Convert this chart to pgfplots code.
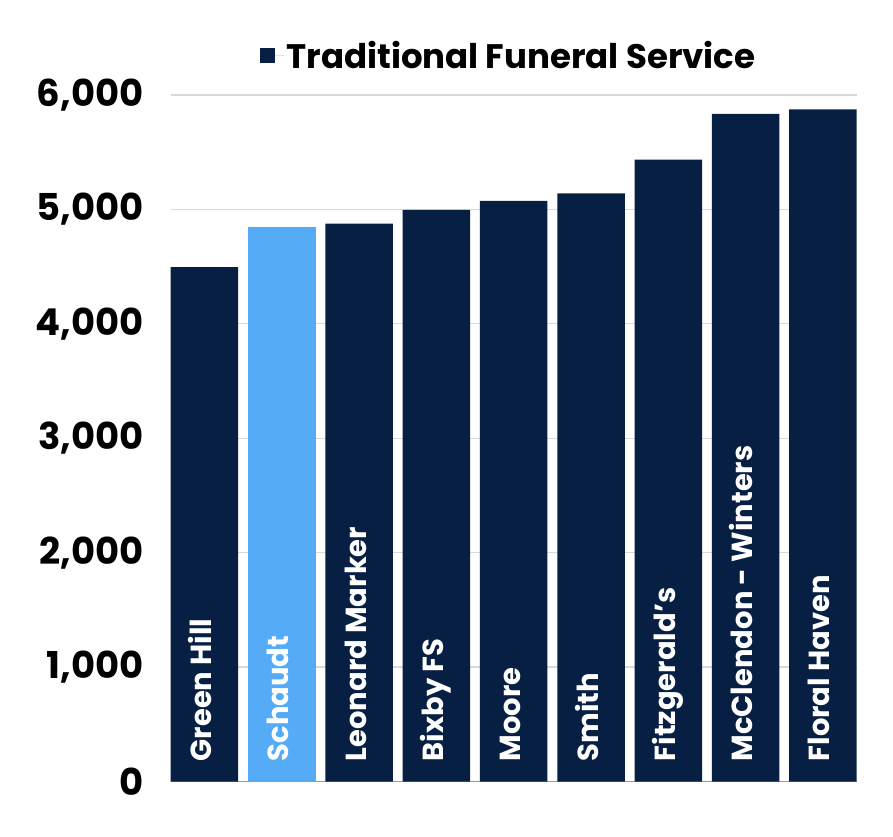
\documentclass[border=0pt]{standalone}
\usepackage{fontspec}
\setmainfont{Poppins}
\usepackage{pgfplots}
\pgfplotsset{compat=1.18}
\definecolor{navy}{HTML}{081F44}
\definecolor{lblue}{HTML}{56ABF7}
\definecolor{gridc}{HTML}{D9D9D9}
\begin{document}
\begin{tikzpicture}
\path[use as bounding box] (0,0) rectangle (893pt,836pt);
\begin{axis}[
  at={(170.7pt,54.5pt)}, anchor=south west,
  scale only axis, width=686pt, height=686.5pt,
  xmin=-0.4365, xmax=8.4365,
  ymin=0, ymax=6000,
  xtick=\empty,
  ytick={0,1000,2000,3000,4000,5000,6000},
  ymajorgrids, grid style={gridc, line width=1.2pt},
  axis lines*=left,
  y axis line style={draw=none},
  x axis line style={draw=black!40, line width=1pt},
  major tick length=0pt,
  yticklabel style={font=\fontsize{37}{37}\selectfont\bfseries, inner sep=0pt, xshift=-27pt},
  legend style={at={(0.493,1.057)}, anchor=center, draw=none, fill=none,
    font=\fontsize{34}{34}\selectfont\bfseries},
  legend cell align=left,
  /pgf/number format/.cd, 1000 sep={,}, assume math mode=true,
]
\addplot[ybar, bar width=0.873, fill=navy, draw=none,
  legend image code/.code={\fill[navy] (0pt,-7.5pt) rectangle (15pt,7.5pt); \path (0pt,0pt) -- (24pt,0pt);}]
  coordinates {(0,4495) (2,4875) (3,4995) (4,5075) (5,5140) (6,5435) (7,5835) (8,5875)};
\addlegendentry{Traditional Funeral Service}
\addplot[ybar, bar width=0.873, fill=lblue, draw=none, forget plot]
  coordinates {(1,4845)};
\addplot[draw=none, mark=none, forget plot, nodes near coords, point meta=explicit symbolic,
  every node near coord/.append style={anchor=west, rotate=90, text=white,
    font=\fontsize{29}{29}\selectfont\bfseries, inner xsep=20pt, inner ysep=0pt,
    text height=24pt, text depth=10pt}]
  coordinates {(0,0) [Green Hill] (1,0) [Schaudt] (2,0) [Leonard Marker] (3,0) [Bixby FS]
    (4,0) [Moore] (5,0) [Smith] (6,0) [Fitzgerald’s] (7,0) [McClendon - Winters] (8,0) [Floral Haven]};
\end{axis}
\end{tikzpicture}
\end{document}
